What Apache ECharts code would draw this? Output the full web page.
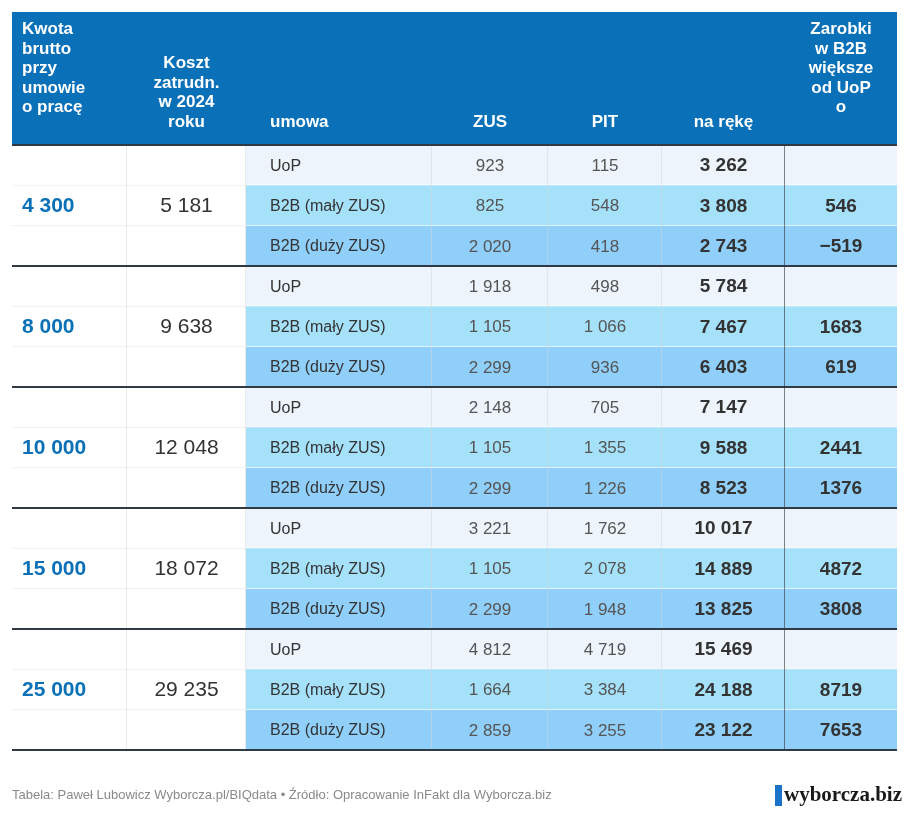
<!DOCTYPE html>
<html><head><meta charset="utf-8">
<script src="https://cdn.jsdelivr.net/npm/echarts@6/dist/echarts.min.js"></script>
<style>html,body{margin:0;padding:0;background:#fff}#c{width:916px;height:821px}</style>
</head><body><div id="c"></div>
<script>
const brutto = ['4 300','8 000','10 000','15 000','25 000'];
const koszt = ['5 181','9 638','12 048','18 072','29 235'];
const types = ['UoP','B2B (mały ZUS)','B2B (duży ZUS)'];
const zus = [['923','825','2 020'],['1 918','1 105','2 299'],['2 148','1 105','2 299'],['3 221','1 105','2 299'],['4 812','1 664','2 859']];
const pit = [['115','548','418'],['498','1 066','936'],['705','1 355','1 226'],['1 762','2 078','1 948'],['4 719','3 384','3 255']];
const net = [['3 262','3 808','2 743'],['5 784','7 467','6 403'],['7 147','9 588','8 523'],['10 017','14 889','13 825'],['15 469','24 188','23 122']];
const diff = [['','546','−519'],['','1683','619'],['','2441','1376'],['','4872','3808'],['','8719','7653']];
const headers = ['Kwota\nbrutto\nprzy\numowie\no pracę','Koszt\nzatrudn.\nw 2024\nroku','umowa','ZUS','PIT','na rękę','Zarobki\nw B2B\nwiększe\nod UoP\no'];

const edges = [0,115,234,420,536,650,773,885];
const rowBg = ['#eef4fb','#a6e1fa','#90cffa'];
const cells = [];
for (let g=0; g<5; g++) {
  cells.push([0, g*3, g*3+3, brutto[g], 'brutto', -1]);
  cells.push([1, g*3, g*3+3, koszt[g], 'koszt', -1]);
  for (let r=0;r<3;r++){
    const y=g*3+r;
    cells.push([2,y,y+1,types[r],'type',r]);
    cells.push([3,y,y+1,zus[g][r],'num',r]);
    cells.push([4,y,y+1,pit[g][r],'num',r]);
    cells.push([5,y,y+1,net[g][r],'net',r]);
    cells.push([6,y,y+1,diff[g][r],'diff',r]);
  }
}
function renderItem(params, api){
  const c = api.value(0), y0 = api.value(1), y1 = api.value(2);
  const p0 = api.coord([edges[c], y0]), p1 = api.coord([edges[c+1], y1]);
  const idx = params.dataIndex, d = cells[idx];
  const kind = d[4], r = d[5];
  const x=p0[0], y=p0[1], w=p1[0]-p0[0], h=p1[1]-p0[1];
  const ch = [];
  ch.push({type:'rect',shape:{x,y,width:w,height:h},style:{fill: r<0?'#fff':rowBg[r], stroke:null}});
  if (r>=0 && r<2) ch.push({type:'line',shape:{x1:x,y1:y+h,x2:x+w,y2:y+h},style:{stroke:'#fff',lineWidth:1.5}});
  if (r<0) { for (let k=1;k<3;k++) ch.push({type:'line',shape:{x1:x,y1:y+h*k/3,x2:x+w,y2:y+h*k/3},style:{stroke:'#f0f0f0',lineWidth:1}}); }
  if (c<6 && c!==5) ch.push({type:'line',shape:{x1:x+w,y1:y,x2:x+w,y2:y+h},style:{stroke:'#d4d4d4',lineWidth:1}});
  if (c===5) ch.push({type:'line',shape:{x1:x+w,y1:y,x2:x+w,y2:y+h},style:{stroke:'#333',lineWidth:1.2}});
  let st = {text:d[3], fontFamily:'Arial, Liberation Sans, sans-serif', verticalAlign:'middle'};
  let tx = x+w/2, ty = y+h/2+1;
  if (kind==='brutto'){ Object.assign(st,{fill:'#0a70b8',fontSize:21,fontWeight:'bold',align:'left'}); tx = x+10; }
  else if (kind==='koszt'){ Object.assign(st,{fill:'#333',fontSize:21,align:'center'}); }
  else if (kind==='type'){ Object.assign(st,{fill:'#333',fontSize:16,align:'left'}); tx = x+24; }
  else if (kind==='num'){ Object.assign(st,{fill:'#555',fontSize:17,align:'center'}); }
  else { Object.assign(st,{fill:'#333',fontSize:19,fontWeight:'bold',align:'center'}); }
  st.x=tx; st.y=ty;
  ch.push({type:'text',style:st});
  return {type:'group',children:ch};
}
const L=12, T=145, W=885, H=605;
const graphics = [{type:'rect',shape:{x:L,y:12,width:W,height:T-12},style:{fill:'#0a70b8'}}];
const hdrFont = 'bold 17px Arial, Liberation Sans, sans-serif';
headers.forEach((t,i)=>{
  const cx = L+(edges[i]+edges[i+1])/2;
  let g = {type:'text',style:{text:t,fill:'#fff',font:hdrFont,lineHeight:19.5}};
  if (i===0){ g.style.x=L+10; g.style.y=20; g.style.align='left'; g.style.verticalAlign='top'; }
  else if (i===1){ g.style.x=cx; g.style.y=132; g.style.align='center'; g.style.verticalAlign='bottom'; }
  else if (i===6){ g.style.x=cx; g.style.y=20; g.style.align='center'; g.style.verticalAlign='top'; }
  else if (i===2){ g.style.x=L+edges[2]+24; g.style.y=132; g.style.align='left'; g.style.verticalAlign='bottom'; }
  else { g.style.x=cx; g.style.y=132; g.style.align='center'; g.style.verticalAlign='bottom'; }
  graphics.push(g);
});
for (let g=0; g<=5; g++){
  const y = T + H*g/5;
  graphics.push({type:'line',z:100,shape:{x1:L,y1:y,x2:L+W,y2:y},style:{stroke:'#2f3a45',lineWidth:2}});
}
graphics.push({type:'text',style:{x:12,y:795,text:'Tabela: Paweł Lubowicz Wyborcza.pl/BIQdata • Źródło: Opracowanie InFakt dla Wyborcza.biz',fill:'#8a8a8a',font:'13px Arial, Liberation Sans, sans-serif',verticalAlign:'middle'}});
graphics.push({type:'rect',shape:{x:775,y:785,width:7,height:21},style:{fill:'#1a73c8'}});
graphics.push({type:'text',style:{x:784,y:796,text:'wyborcza.biz',fill:'#1a1a1a',font:'bold 21px "Liberation Serif", "DejaVu Serif", serif',verticalAlign:'middle'}});

const chart = echarts.init(document.getElementById('c'));
chart.setOption({
  animation:false,
  grid:{left:L,top:T,width:W,height:H},
  xAxis:{type:'value',min:0,max:885,show:false},
  yAxis:{type:'value',min:0,max:15,inverse:true,show:false},
  graphic:graphics,
  series:[{type:'custom',renderItem,data:cells.map(d=>[d[0],d[1],d[2]]),encode:{x:0,y:[1,2]}}]
});
</script></body></html>
